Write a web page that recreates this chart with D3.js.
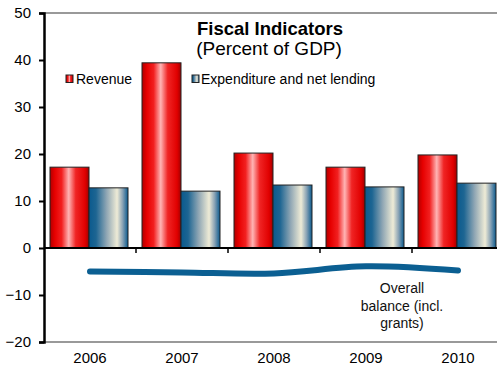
<!DOCTYPE html>
<html>
<head>
<meta charset="utf-8">
<script src="https://cdn.jsdelivr.net/npm/d3@7"></script>
<style>
  html, body { margin: 0; padding: 0; background: #fff; }
  svg { display: block; font-family: "Liberation Sans", Arial, sans-serif; }
</style>
</head>
<body>
<svg id="chart" width="497" height="370"></svg>
<script>
// Fiscal indicators, percent of GDP
const years = ["2006", "2007", "2008", "2009", "2010"];
const revenue = [17.2, 39.4, 20.2, 17.2, 19.8];
const expenditure = [12.8, 12.1, 13.4, 13.0, 13.8];
const overallBalance = [-5.0, -5.2, -5.4, -3.9, -4.8];
const yTicks = [-20, -10, 0, 10, 20, 30, 40, 50];
const seriesNames = ["Revenue", "Expenditure and net lending"];

const svg = d3.select("#chart");
const plotLeft = 44, plotRight = 504, plotTop = 13, plotBottom = 342;

const y = d3.scaleLinear().domain([-20, 50]).range([plotBottom, plotTop]);
const x0 = d3.scaleBand().domain(years).range([plotLeft, plotRight]).padding(0);
const x1 = d3.scaleBand().domain(seriesNames).range([6, 84]).padding(0);

// gradients for the cylinder-like bar shading
const defs = svg.append("defs");
const redGrad = defs.append("linearGradient").attr("id", "gRed")
  .attr("x1", "0%").attr("x2", "100%").attr("y1", "0%").attr("y2", "0%");
[[0, "#b00000"], [0.12, "#e60000"], [0.3, "#f22020"], [0.48, "#ffb4b4"], [0.66, "#f02424"], [0.9, "#e00000"], [1, "#a00000"]]
  .forEach(([o, c]) => redGrad.append("stop").attr("offset", o).attr("stop-color", c));
const blueGrad = defs.append("linearGradient").attr("id", "gBlue")
  .attr("x1", "0%").attr("x2", "100%").attr("y1", "0%").attr("y2", "0%");
[[0, "#0a5a8e"], [0.18, "#1d6592"], [0.45, "#8fa6b4"], [0.72, "#eeebd6"], [0.86, "#8aa3b5"], [1, "#0a5a8e"]]
  .forEach(([o, c]) => blueGrad.append("stop").attr("offset", o).attr("stop-color", c));

// plot area border lines (top and bottom)
svg.append("line").attr("x1", plotLeft).attr("x2", 497).attr("y1", plotTop).attr("y2", plotTop)
  .attr("stroke", "#777").attr("stroke-width", 1.5);
svg.append("line").attr("x1", plotLeft).attr("x2", 497).attr("y1", plotBottom).attr("y2", plotBottom)
  .attr("stroke", "#777").attr("stroke-width", 1.5);

// bars
const fills = { "Revenue": "url(#gRed)", "Expenditure and net lending": "url(#gBlue)" };
const groups = svg.append("g").selectAll("g").data(years).join("g")
  .attr("transform", d => `translate(${x0(d)},0)`);
groups.selectAll("rect")
  .data((d, i) => [
    { key: seriesNames[0], v: revenue[i] },
    { key: seriesNames[1], v: expenditure[i] }
  ])
  .join("rect")
  .attr("x", d => x1(d.key))
  .attr("width", x1.bandwidth())
  .attr("y", d => y(Math.max(0, d.v)))
  .attr("height", d => Math.abs(y(d.v) - y(0)))
  .attr("fill", d => fills[d.key])
  .attr("stroke", "#222")
  .attr("stroke-width", 1);

// zero line with category separators
svg.append("line").attr("x1", plotLeft).attr("x2", 497).attr("y1", y(0)).attr("y2", y(0))
  .attr("stroke", "#000").attr("stroke-width", 2);
svg.append("g").selectAll("line").data(years.slice(1)).join("line")
  .attr("x1", d => x0(d)).attr("x2", d => x0(d))
  .attr("y1", y(0)).attr("y2", y(0) + 5)
  .attr("stroke", "#000").attr("stroke-width", 1.5);

// y axis
const yAxis = svg.append("g").attr("transform", `translate(${plotLeft},0)`)
  .call(d3.axisLeft(y).tickValues(yTicks).tickSize(5).tickPadding(8));
yAxis.select(".domain").attr("stroke", "#000").attr("stroke-width", 2.5);
yAxis.selectAll(".tick line").attr("stroke", "#000").attr("stroke-width", 2);
yAxis.selectAll(".tick text").attr("font-size", 15).attr("fill", "#000")
  .attr("font-family", "'Liberation Sans', Arial, sans-serif");

// year labels along the bottom
const xAxis = svg.append("g").attr("transform", `translate(0,${plotBottom + 10})`)
  .call(d3.axisBottom(x0).tickSize(0).tickPadding(0));
xAxis.select(".domain").remove();
xAxis.selectAll(".tick text").attr("font-size", 15).attr("fill", "#000")
  .attr("font-family", "'Liberation Sans', Arial, sans-serif");

// overall balance line (smoothed)
const line = d3.line()
  .x((d, i) => x0(years[i]) + x0.bandwidth() / 2)
  .y(d => y(d))
  .curve(d3.curveCatmullRom.alpha(0.5));
svg.append("path").datum(overallBalance)
  .attr("d", line)
  .attr("fill", "none")
  .attr("stroke", "#0b5f92")
  .attr("stroke-width", 6)
  .attr("stroke-linecap", "round")
  .attr("stroke-linejoin", "round");

// line annotation
const note = svg.append("text").attr("text-anchor", "middle").attr("font-size", 14).attr("fill", "#111");
["Overall", "balance (incl.", "grants)"].forEach((t, i) =>
  note.append("tspan").attr("x", 402).attr("y", 293 + i * 17.5).text(t));

// title
svg.append("text").attr("x", 270).attr("y", 35).attr("text-anchor", "middle")
  .attr("font-size", 18.5).attr("font-weight", "bold").text("Fiscal Indicators");
svg.append("text").attr("x", 269).attr("y", 55).attr("text-anchor", "middle")
  .attr("font-size", 19).text("(Percent of GDP)");

// legend
const legend = svg.append("g");
const legendItems = [
  { key: seriesNames[0], sx: 66, tx: 76 },
  { key: seriesNames[1], sx: 192, tx: 201 }
];
legendItems.forEach(it => {
  legend.append("rect").attr("x", it.sx).attr("y", 75).attr("width", 7).attr("height", 7.5)
    .attr("fill", fills[it.key]).attr("stroke", "#222").attr("stroke-width", 1);
  legend.append("text").attr("x", it.tx).attr("y", 84).attr("font-size", 14).text(it.key);
});
</script>
</body>
</html>
